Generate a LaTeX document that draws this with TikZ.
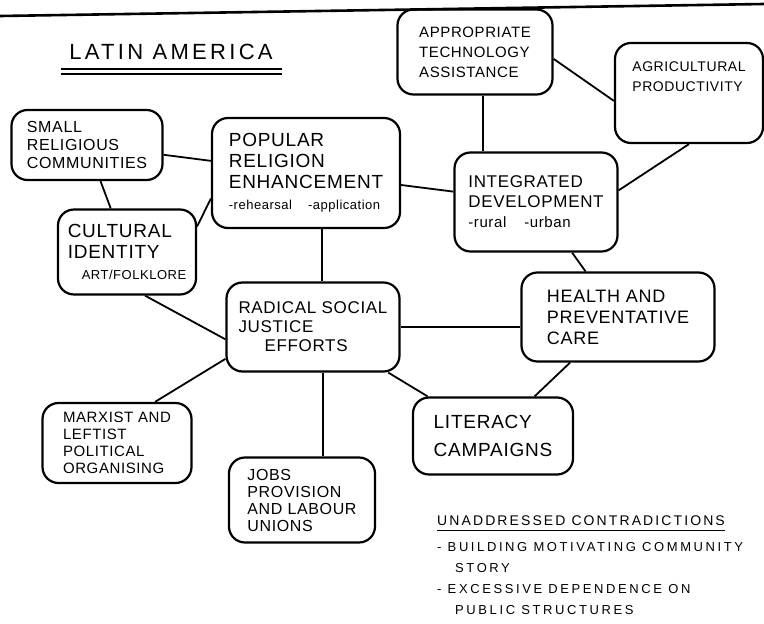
\documentclass[tikz,border=0pt]{standalone}
\usepackage{fontspec}
\setmainfont[LetterSpace=4]{Liberation Sans}
\newfontfamily\spacedfont[LetterSpace=15]{Liberation Sans}
\newfontfamily\widefont[LetterSpace=20]{Liberation Sans}
\tikzset{
  box/.style={draw, line width=2.2pt, rounded corners=16pt, align=left, inner sep=0pt},
  link/.style={line width=1.8pt},
}
\begin{document}
\begin{tikzpicture}[x=1pt, y=-1pt]
\useasboundingbox (0,0) rectangle (764,624);
\draw[line width=2.6pt] (0,16) -- (764,4);
\node[inner sep=0pt, font=\spacedfont\fontsize{22}{26}\selectfont] (title) at (171,52) {LATIN AMERICA};
\draw[line width=1.6pt] ([xshift=-8pt, yshift=-9pt]title.south west) -- ([xshift=9pt, yshift=-9pt]title.south east);
\draw[line width=1.6pt] ([xshift=-8pt, yshift=-14pt]title.south west) -- ([xshift=9pt, yshift=-14pt]title.south east);
\node[box, minimum width=151pt, minimum height=70pt, font=\fontsize{16}{18}\selectfont] (src) at (87,145) {SMALL\\RELIGIOUS\\COMMUNITIES};
\node[box, minimum width=188pt, minimum height=110pt, font=\fontsize{19}{21}\selectfont] (pre) at (306,173) {POPULAR\\RELIGION\\ENHANCEMENT\\{\fontsize{13}{15}\selectfont -rehearsal\hspace{16pt}-application}};
\node[box, minimum width=138pt, minimum height=85pt, font=\fontsize{19}{21}\selectfont] (ci) at (127,252) {CULTURAL\\IDENTITY\\\hspace*{14pt}{\fontsize{13}{15}\selectfont ART/FOLKLORE}};
\node[box, minimum width=155pt, minimum height=85pt, font=\fontsize{15}{20}\selectfont] (ata) at (475,52) {APPROPRIATE\\TECHNOLOGY\\ASSISTANCE};
\node[box, minimum width=148pt, minimum height=100pt, font=\fontsize{14}{20}\selectfont] (agr) at (689,93) {AGRICULTURAL\\PRODUCTIVITY\\[12pt]\mbox{}};
\node[box, minimum width=163pt, minimum height=99pt, font=\fontsize{17}{20}\selectfont] (idev) at (536,202) {INTEGRATED\\DEVELOPMENT\\{\fontsize{15}{17}\selectfont -rural\hspace{18pt}-urban}};
\node[box, minimum width=193pt, minimum height=89pt, font=\fontsize{18}{21}\selectfont] (hpc) at (618,317) {HEALTH AND\\PREVENTATIVE\\CARE};
\node[box, minimum width=173pt, minimum height=89pt, font=\fontsize{17}{19}\selectfont] (rsj) at (313,327) {RADICAL SOCIAL\\JUSTICE\\\hspace*{26pt}EFFORTS};
\node[box, minimum width=160pt, minimum height=77pt, font=\fontsize{19}{28}\selectfont] (lc) at (493,436) {LITERACY\\CAMPAIGNS};
\node[box, minimum width=149pt, minimum height=80pt, font=\fontsize{15}{17}\selectfont] (marx) at (117,443) {MARXIST AND\\LEFTIST\\POLITICAL\\ORGANISING};
\node[box, minimum width=146pt, minimum height=85pt, font=\fontsize{16}{17}\selectfont] (jobs) at (302,500) {JOBS\\PROVISION\\AND LABOUR\\UNIONS};
\node[anchor=west, inner sep=0pt, font=\spacedfont\fontsize{14}{16}\selectfont] (head) at (437,521) {UNADDRESSED CONTRADICTIONS};
\draw[line width=1pt] ([yshift=-4pt]head.south west) -- ([yshift=-4pt]head.south east);
\node[anchor=north west, align=left, inner sep=0pt, font=\widefont\fontsize{13}{21}\selectfont] (items) at (437,542) {- BUILDING MOTIVATING COMMUNITY\\\hspace*{18pt}STORY\\- EXCESSIVE DEPENDENCE ON\\\hspace*{18pt}PUBLIC STRUCTURES};
\draw[link] (src) -- (pre);
\draw[link] (src) -- (ci);
\draw[link] (ci.20) -- (pre.195);
\draw[link] ([xshift=16pt]pre.south) -- ([xshift=9pt]rsj.north);
\draw[link] (pre) -- (idev);
\draw[link] ([xshift=8pt]ata.south) -- ([xshift=-53pt]idev.north);
\draw[link] (ata.-5) -- (agr.186);
\draw[link] (agr.south) -- (idev.8);
\draw[link] (idev) -- (hpc);
\draw[link] (rsj.east) -- (rsj.east -| hpc.west);
\draw[link] (hpc) -- (lc);
\draw[link] (rsj) -- (lc);
\draw[link] ([xshift=18pt]ci.south) -- (rsj.188);
\draw[link] (rsj.200) -- ([xshift=38pt]marx.north);
\draw[link] ([xshift=10pt]rsj.south) -- ([xshift=21pt]jobs.north);
\end{tikzpicture}
\end{document}
